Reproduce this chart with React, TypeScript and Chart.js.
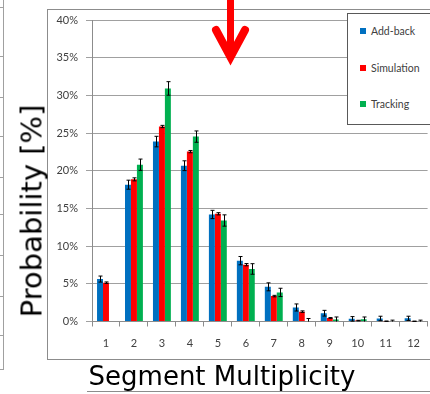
import React, { useEffect, useRef } from "react";
import { Chart, registerables } from "chart.js";

Chart.register(...registerables);

// ---- data (percent) ----
const categories = ["1", "2", "3", "4", "5", "6", "7", "8", "9", "10", "11", "12"];
const addBack = [5.63, 18.15, 23.87, 20.67, 14.2, 8.07, 4.6, 1.86, 1.1, 0.35, 0.4, 0.42];
const addBackErr = [0.4, 0.6, 0.7, 0.65, 0.55, 0.55, 0.53, 0.47, 0.38, 0.3, 0.3, 0.28];
const simulation = [5.15, 18.86, 25.87, 22.54, 14.29, 7.54, 3.37, 1.31, 0.47, 0.12, 0.04, 0.03];
const simulationErr = [0.1, 0.2, 0.15, 0.15, 0.15, 0.15, 0.1, 0.1, 0.05, 0.04, 0.02, 0.02];
const tracking = [null, 20.8, 30.92, 24.53, 13.4, 6.97, 3.86, 0.05, 0.27, 0.3, 0.08, 0.08];
const trackingErr = [null, 0.75, 0.9, 0.75, 0.75, 0.7, 0.55, 0.35, 0.33, 0.3, 0.1, 0.1];
const seriesNames = ["Add-back", "Simulation", "Tracking"];
const seriesColors = ["#0070C0", "#FF0000", "#00B050"];
const yMax = 40;
const yStep = 5;

const FONT = "Lato, 'Noto Sans', sans-serif";
const TITLE_FONT = "'DejaVu Sans', sans-serif";

const errorBarPlugin = {
  id: "errorBars",
  afterDatasetsDraw(chart: any) {
    const ctx = chart.ctx;
    const yScale = chart.scales.y;
    chart.data.datasets.forEach((ds: any, i: number) => {
      const meta = chart.getDatasetMeta(i);
      meta.data.forEach((bar: any, j: number) => {
        const v = ds.data[j];
        const e = ds.errors[j];
        if (v == null || e == null) return;
        const x = Math.round(bar.x) + 0.5;
        const top = yScale.getPixelForValue(v + e);
        const lo = v - e;
        const bot = yScale.getPixelForValue(Math.max(0, lo));
        ctx.save();
        ctx.strokeStyle = "#000";
        ctx.lineWidth = 1;
        ctx.beginPath();
        ctx.moveTo(x, top);
        ctx.lineTo(x, bot);
        ctx.moveTo(x - 2, top);
        ctx.lineTo(x + 2, top);
        if (lo > 0) {
          ctx.moveTo(x - 2, bot);
          ctx.lineTo(x + 2, bot);
        }
        ctx.stroke();
        ctx.restore();
      });
    });
  },
};

function ChartCanvas() {
  const ref = useRef<HTMLCanvasElement | null>(null);
  useEffect(() => {
    if (!ref.current) return;
    const values = [addBack, simulation, tracking];
    const errs = [addBackErr, simulationErr, trackingErr];
    const chart = new Chart(ref.current, {
      type: "bar",
      data: {
        labels: categories,
        datasets: seriesNames.map((name, i) => ({
          label: name,
          data: values[i] as any,
          errors: errs[i],
          backgroundColor: seriesColors[i],
          borderWidth: 0,
        })) as any,
      },
      options: {
        animation: false,
        responsive: false,
        maintainAspectRatio: false,
        layout: { padding: { top: 20, right: 0, left: 0, bottom: 0 } },
        plugins: { legend: { display: false }, tooltip: { enabled: false } },
        datasets: { bar: { barPercentage: 1, categoryPercentage: 0.64 } },
        scales: {
          x: {
            grid: {
              drawOnChartArea: false,
              drawTicks: true,
              tickLength: 5,
              color: "#8c8c8c",
              offset: true,
            },
            border: { color: "#8c8c8c" },
            ticks: { color: "#404040", font: { family: FONT, size: 11 }, padding: 10 },
            afterFit: (s: any) => {
              s.height = 72.5;
            },
          },
          y: {
            min: 0,
            max: yMax,
            ticks: {
              stepSize: yStep,
              callback: (v: any) => v + "%",
              color: "#404040",
              font: { family: FONT, size: 11 },
              padding: 8,
            },
            grid: { color: "#a0a0a0", tickLength: 6 },
            border: { color: "#8c8c8c" },
            afterFit: (s: any) => {
              s.width = 92;
            },
          },
        },
      } as any,
      plugins: [errorBarPlugin],
    });
    return () => chart.destroy();
  }, []);
  return (
    <canvas
      ref={ref}
      width={430}
      height={394}
      style={{ position: "absolute", left: 0, top: 0, width: 430, height: 394 }}
    />
  );
}

function Legend() {
  return (
    <div
      style={{
        position: "absolute",
        left: 347,
        top: 13,
        width: 95,
        height: 110,
        border: "1px solid #595959",
        background: "#fff",
        fontFamily: FONT,
        fontSize: 10.5,
        color: "#404040",
      }}
    >
      {seriesNames.map((n, i) => (
        <div
          key={n}
          style={{
            position: "absolute",
            left: 12,
            top: 11 + i * 36.5,
            height: 12,
            display: "flex",
            alignItems: "center",
            whiteSpace: "nowrap",
          }}
        >
          <span
            style={{
              display: "inline-block",
              width: 6,
              height: 6,
              background: seriesColors[i],
              marginRight: 5,
            }}
          />
          <span>{n}</span>
        </div>
      ))}
    </div>
  );
}

function Arrow() {
  return (
    <svg
      width={430}
      height={394}
      style={{ position: "absolute", left: 0, top: 0, pointerEvents: "none" }}
    >
      <line x1={230.5} y1={-5} x2={230.5} y2={54} stroke="#FF0000" strokeWidth={7} />
      <polyline
        points="216,30 230.5,57 245,30"
        fill="none"
        stroke="#FF0000"
        strokeWidth={8}
        strokeLinecap="round"
        strokeLinejoin="miter"
      />
    </svg>
  );
}

function LeftFragment() {
  const ys = [7, 56, 97, 136, 177, 214, 255, 296, 335];
  return (
    <>
      <div style={{ position: "absolute", left: 3, top: 0, width: 1, height: 369, background: "#a0a0a0" }} />
      <div style={{ position: "absolute", left: 0, top: 369, width: 4, height: 1, background: "#a0a0a0" }} />
      {ys.map((y) => (
        <div key={y} style={{ position: "absolute", left: 0, top: y, width: 3, height: 1, background: "#a0a0a0" }} />
      ))}
    </>
  );
}

export default function App() {
  return (
    <div
      style={{
        position: "fixed",
        left: 0,
        top: 0,
        width: 430,
        height: 394,
        background: "#fff",
        overflow: "hidden",
      }}
    >
      <LeftFragment />
      {/* slide frame */}
      <div style={{ position: "absolute", left: 47, top: 9, width: 400, height: 349, border: "1px solid #8c8c8c", borderRight: "none" }} />
      <div style={{ position: "absolute", left: 87, top: 391, width: 350, height: 1, background: "#8c8c8c" }} />
      <ChartCanvas />
      <Legend />
      <Arrow />
      <div
        style={{
          position: "absolute",
          left: 32,
          top: 211,
          transform: "translate(-50%, -50%) rotate(-90deg)",
          whiteSpace: "nowrap",
          fontFamily: TITLE_FONT,
          fontSize: 29,
          color: "#000",
          lineHeight: 1,
        }}
      >
        Probability [%]
      </div>
      <div
        style={{
          position: "absolute",
          left: 222,
          top: 376,
          transform: "translate(-50%, -50%)",
          whiteSpace: "nowrap",
          fontFamily: TITLE_FONT,
          fontSize: 26,
          color: "#000",
          lineHeight: 1,
        }}
      >
        Segment Multiplicity
      </div>
    </div>
  );
}
